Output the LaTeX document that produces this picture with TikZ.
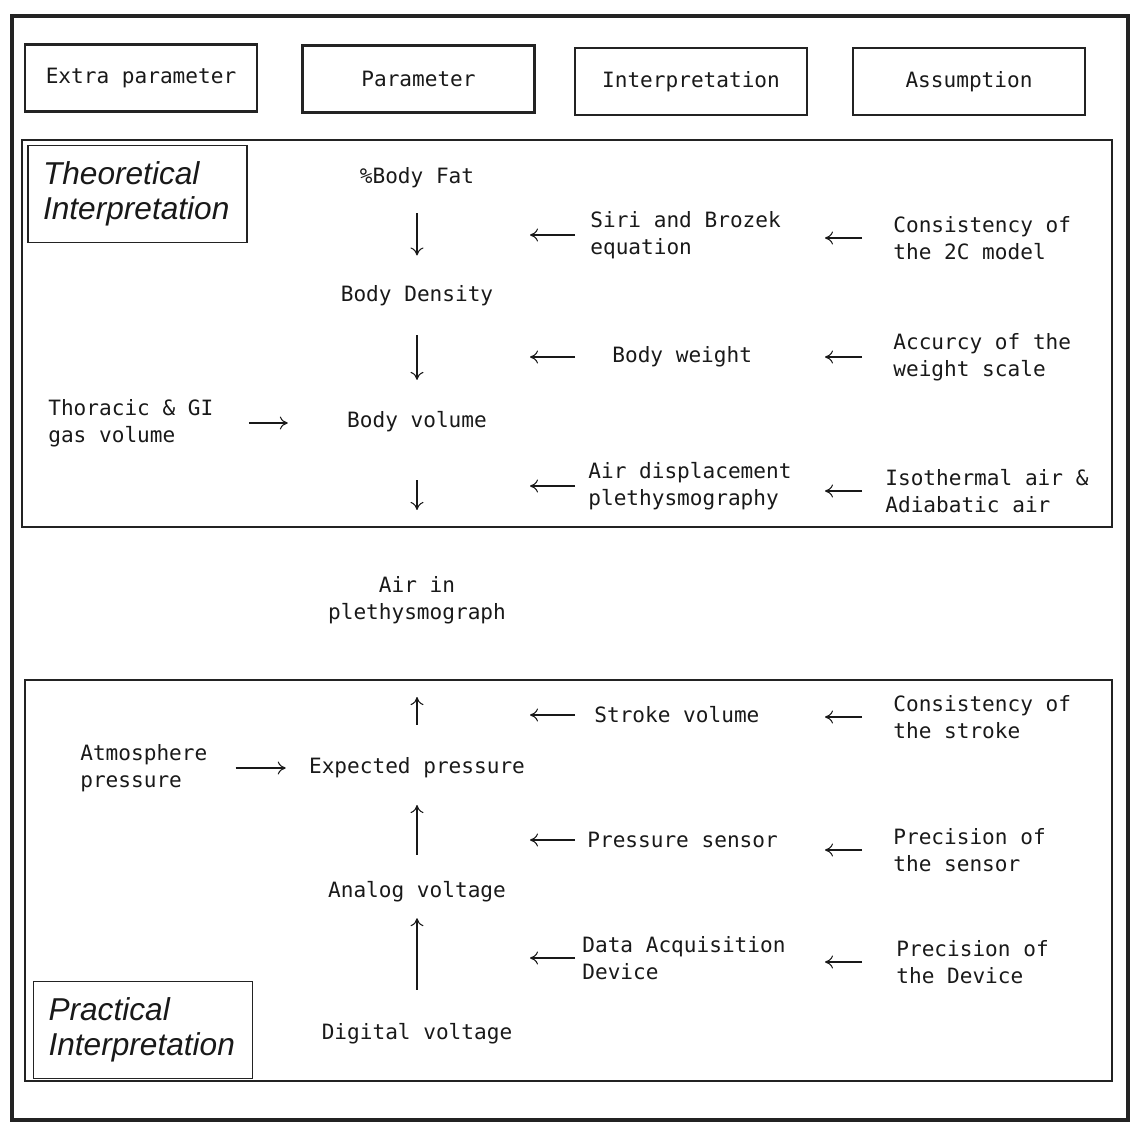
\documentclass[tikz,border=0pt]{standalone}
\usepackage{fontspec}
\setmainfont{DejaVu Sans Mono}
\newfontfamily\labelfont{Liberation Sans}
\usetikzlibrary{
  arrows.meta,
  positioning
}
\definecolor{inkcolor}{RGB}{25, 25, 25}
\definecolor{framecolor}{RGB}{35, 35, 35}
\tikzset{
plaintext/.style={
  font=\fontsize{12}{15.3}\selectfont,
  text=inkcolor,
  inner sep=0pt
},
paramtext/.style={
  plaintext,
  align=center
},
sidetext/.style={
  plaintext,
  anchor=west,
  align=left
},
headerblock/.style={
  draw=framecolor,
  line width=1.6pt,
  minimum width=4.64cm,
  minimum height=1.34cm,
  plaintext
},
panel/.style={
  draw=framecolor,
  line width=1pt
},
panellabel/.style={
  draw=framecolor,
  line width=0.8pt,
  align=left,
  text width=3.78cm,
  inner xsep=0.3cm,
  minimum height=1.94cm,
  font=\labelfont\itshape\fontsize{18}{20}\selectfont,
  text=inkcolor
},
arrow/.style={
  -{To[length=1.6mm,width=2.6mm]},
  line width=0.6pt,
  draw=inkcolor
}
}
\begin{document}
\begin{tikzpicture}
        \useasboundingbox (0,0) rectangle (22.64,-22.52);
        \draw[framecolor, line width=2.6pt] (0.24,-0.32) rectangle (22.56,-22.4);

        \node[headerblock] (hextra) at (2.82,-1.56) {Extra parameter};
        \node[headerblock] (hparam) at (8.37,-1.58) {Parameter};
        \node[headerblock] (hinterp) at (13.82,-1.63) {Interpretation};
        \node[headerblock] (hassump) at (19.38,-1.63) {Assumption};

        \draw[panel] (0.44,-2.8) rectangle (22.24,-10.54);
        \draw[panel] (0.5,-13.6) rectangle (22.24,-21.62);
        \node[panellabel] (theo) at (2.75,-3.88) {Theoretical\\Interpretation};
        \node[panellabel] (prac) at (2.86,-20.6) {Practical\\Interpretation};

        % parameter column
        \node[paramtext] (fat) at (8.34,-3.56) {\%Body Fat};
        \node[paramtext] (dens) at (8.34,-5.92) {Body Density};
        \node[paramtext] (bvol) at (8.34,-8.44) {Body volume};
        \node[paramtext] (airpl) at (8.34,-12.0) {Air in\\plethysmograph};
        \node[paramtext] (expp) at (8.34,-15.36) {Expected pressure};
        \node[paramtext] (analog) at (8.34,-17.84) {Analog voltage};
        \node[paramtext] (digital) at (8.34,-20.68) {Digital voltage};

        % interpretation column
        \node[sidetext] (siri) at (11.8,-4.7) {Siri and Brozek\\equation};
        \node[sidetext] (bweight) at (12.24,-7.14) {Body weight};
        \node[sidetext] (adp) at (11.76,-9.72) {Air displacement\\plethysmography};
        \node[sidetext] (stroke) at (11.88,-14.3) {Stroke volume};
        \node[sidetext] (psensor) at (11.74,-16.8) {Pressure sensor};
        \node[sidetext] (daq) at (11.64,-19.16) {Data Acquisition\\Device};

        % assumption column
        \node[sidetext] (twoc) at (17.86,-4.76) {Consistency of\\the 2C model};
        \node[sidetext] (scale) at (17.86,-7.14) {Accurcy of the\\weight scale};
        \node[sidetext] (isoth) at (17.7,-9.82) {Isothermal air \&\\Adiabatic air};
        \node[sidetext] (cstroke) at (17.86,-14.34) {Consistency of\\the stroke};
        \node[sidetext] (psens) at (17.86,-17.0) {Precision of\\the sensor};
        \node[sidetext] (pdev) at (17.92,-19.24) {Precision of\\the Device};

        % extra parameter column
        \node[sidetext] (thor) at (0.96,-8.46) {Thoracic \& GI\\ gas volume};
        \node[sidetext] (atm) at (1.6,-15.36) {Atmosphere\\pressure};

        \coordinate (ptip) at (10.6,0);
        \coordinate (itail) at (11.5,0);
        \coordinate (itip) at (16.5,0);
        \coordinate (atail) at (17.24,0);

        \draw[arrow, shorten <=0.49cm, shorten >=0.6cm] (fat) -- (dens);
        \draw[arrow, shorten <=0.57cm, shorten >=0.63cm] (dens) -- (bvol);
        \draw[arrow, shorten <=0.95cm, shorten >=1.32cm] (bvol) -- (airpl);
        \draw[arrow, shorten <=0.65cm, shorten >=1.46cm] (expp) -- (airpl);
        \draw[arrow, shorten <=0.53cm, shorten >=0.53cm] (analog) -- (expp);
        \draw[arrow, shorten <=0.67cm, shorten >=0.31cm] (digital) -- (analog);

        \foreach \n in {siri,bweight,adp,stroke,psensor,daq}
          \draw[arrow] (\n.west -| itail) -- (\n.west -| ptip);
        \foreach \n in {twoc,scale,isoth,cstroke,psens,pdev}
          \draw[arrow] (\n.west -| atail) -- (\n.west -| itip);

        \draw[arrow, shorten <=0.7cm, shorten >=1.18cm] (thor.east) -- (thor.east -| bvol.west);
        \draw[arrow, shorten <=0.56cm, shorten >=0.46cm] (atm.east) -- (atm.east -| expp.west);
      \end{tikzpicture}
\end{document}
